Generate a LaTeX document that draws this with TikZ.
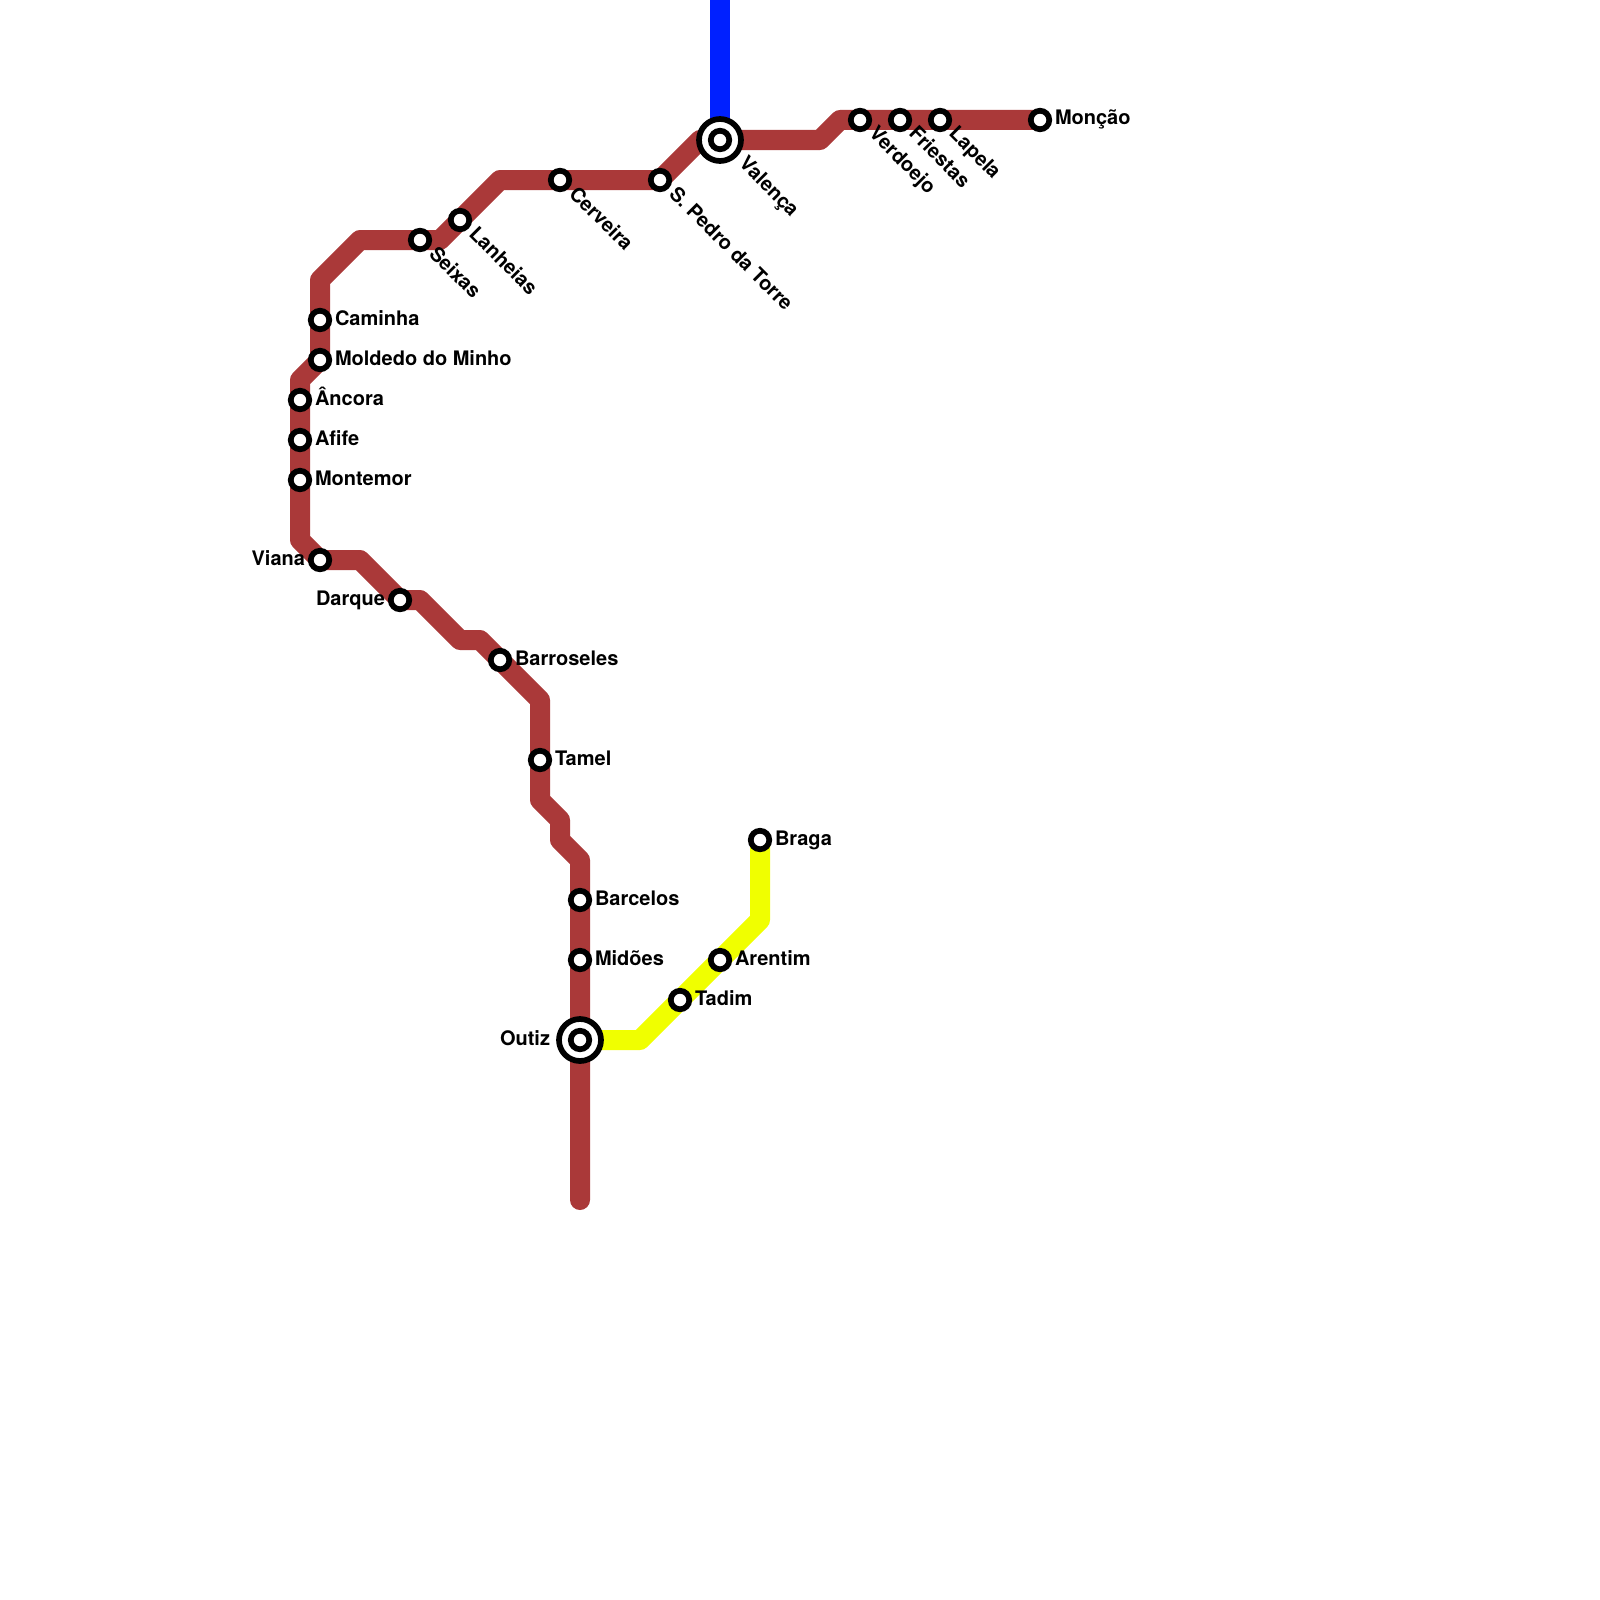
\documentclass[tikz,border=0pt]{standalone}
\usepackage{fontspec}
\setmainfont{TeX Gyre Heros}
\definecolor{brownline}{HTML}{AA3939}
\definecolor{yellowline}{HTML}{F0FF00}
\definecolor{blueline}{HTML}{0020FF}
\tikzset{
  route/.style={line width=10pt,line join=round,line cap=round},
  stn/.style={circle,draw=black,fill=white,line width=2.85pt,minimum size=9.25pt,inner sep=0pt,outer sep=0pt},
  hub/.style={circle,draw=black,fill=white,line width=2.85pt,minimum size=21pt,inner sep=0pt,outer sep=0pt},
  lbl/.style={inner sep=0pt,outer sep=0pt,font=\fontsize{10pt}{12pt}\selectfont\bfseries,text=black},
  lblR/.style={lbl,anchor=base west},
  lblL/.style={lbl,anchor=base east},
  lblD/.style={lbl,anchor=base west,rotate=-45},
}
\begin{document}
\begin{tikzpicture}[x=0.5pt,y=-0.5pt]
\useasboundingbox (0,0) rectangle (1600,1600);
% bend points and free ends
\coordinate (top) at (720,-12);
\coordinate (bEnd) at (580,1200);
\coordinate (b1) at (580,860);
\coordinate (b2) at (560,840);
\coordinate (b3) at (560,820);
\coordinate (b4) at (540,800);
\coordinate (b5) at (540,700);
\coordinate (b6) at (480,640);
\coordinate (b7) at (460,640);
\coordinate (b8) at (420,600);
\coordinate (b9) at (360,560);
\coordinate (b10) at (300,540);
\coordinate (b11) at (300,380);
\coordinate (b12) at (320,280);
\coordinate (b13) at (360,240);
\coordinate (b14) at (440,240);
\coordinate (b15) at (500,180);
\coordinate (b16) at (700,140);
\coordinate (b17) at (820,140);
\coordinate (b18) at (840,120);
\coordinate (y1) at (640,1040);
\coordinate (y2) at (760,920);
% stations
\coordinate (pCaminha) at (320,320);
\coordinate (pMoldedo) at (320,360);
\coordinate (pAncora) at (300,400);
\coordinate (pAfife) at (300,440);
\coordinate (pMontemor) at (300,480);
\coordinate (pViana) at (320,560);
\coordinate (pDarque) at (400,600);
\coordinate (pBarroseles) at (500,660);
\coordinate (pTamel) at (540,760);
\coordinate (pBarcelos) at (580,900);
\coordinate (pMidoes) at (580,960);
\coordinate (pOutiz) at (580,1040);
\coordinate (pTadim) at (680,1000);
\coordinate (pArentim) at (720,960);
\coordinate (pBraga) at (760,840);
\coordinate (pSeixas) at (420,240);
\coordinate (pLanheias) at (460,220);
\coordinate (pCerveira) at (560,180);
\coordinate (pPedro) at (660,180);
\coordinate (pValenca) at (720,140);
\coordinate (pVerdoejo) at (860,120);
\coordinate (pFriestas) at (900,120);
\coordinate (pLapela) at (940,120);
\coordinate (pMoncao) at (1040,120);
% lines
\draw[route,blueline] (top) -- (pValenca);
\draw[route,yellowline] (pOutiz) -- (y1) -- (y2) -- (pBraga);
\draw[route,brownline] (bEnd) -- (b1) -- (b2) -- (b3) -- (b4) -- (b5) -- (b6) -- (b7) -- (b8) -- (pDarque) -- (b9) -- (pViana) -- (b10) -- (b11) -- (pMoldedo) -- (b12) -- (b13) -- (b14) -- (b15) -- (pPedro) -- (b16) -- (b17) -- (b18) -- (pMoncao);
% station markers
\node[stn] (Caminha) at (pCaminha) {};
\node[stn] (Moldedo) at (pMoldedo) {};
\node[stn] (Ancora) at (pAncora) {};
\node[stn] (Afife) at (pAfife) {};
\node[stn] (Montemor) at (pMontemor) {};
\node[stn] (Viana) at (pViana) {};
\node[stn] (Darque) at (pDarque) {};
\node[stn] (Barroseles) at (pBarroseles) {};
\node[stn] (Tamel) at (pTamel) {};
\node[stn] (Barcelos) at (pBarcelos) {};
\node[stn] (Midoes) at (pMidoes) {};
\node[hub] (OutizHub) at (pOutiz) {};
\node[stn] (Outiz) at (pOutiz) {};
\node[stn] (Tadim) at (pTadim) {};
\node[stn] (Arentim) at (pArentim) {};
\node[stn] (Braga) at (pBraga) {};
\node[stn] (Seixas) at (pSeixas) {};
\node[stn] (Lanheias) at (pLanheias) {};
\node[stn] (Cerveira) at (pCerveira) {};
\node[stn] (Pedro) at (pPedro) {};
\node[hub] (ValencaHub) at (pValenca) {};
\node[stn] (Valenca) at (pValenca) {};
\node[stn] (Verdoejo) at (pVerdoejo) {};
\node[stn] (Friestas) at (pFriestas) {};
\node[stn] (Lapela) at (pLapela) {};
\node[stn] (Moncao) at (pMoncao) {};
% labels
\node[lblR] (tCaminha) at ([shift={(15,5)}]pCaminha) {Caminha};
\node[lblR] (tMoldedo) at ([shift={(15,5)}]pMoldedo) {Moldedo do Minho};
\node[lblR] (tAncora) at ([shift={(15,5)}]pAncora) {Âncora};
\node[lblR] (tAfife) at ([shift={(15,5)}]pAfife) {Afife};
\node[lblR] (tMontemor) at ([shift={(15,5)}]pMontemor) {Montemor};
\node[lblL] (tViana) at ([shift={(-15,5)}]pViana) {Viana};
\node[lblL] (tDarque) at ([shift={(-15,5)}]pDarque) {Darque};
\node[lblR] (tBarroseles) at ([shift={(15,5)}]pBarroseles) {Barroseles};
\node[lblR] (tTamel) at ([shift={(15,5)}]pTamel) {Tamel};
\node[lblR] (tBarcelos) at ([shift={(15,5)}]pBarcelos) {Barcelos};
\node[lblR] (tMidoes) at ([shift={(15,5)}]pMidoes) {Midões};
\node[lblL] (tOutiz) at ([shift={(-30,5)}]pOutiz) {Outiz};
\node[lblR] (tTadim) at ([shift={(15,5)}]pTadim) {Tadim};
\node[lblR] (tArentim) at ([shift={(15,5)}]pArentim) {Arentim};
\node[lblR] (tBraga) at ([shift={(15,5)}]pBraga) {Braga};
\node[lblR] (tMoncao) at ([shift={(15,5)}]pMoncao) {Monção};
\node[lblD] (tSeixas) at ([shift={(8,15)}]pSeixas) {Seixas};
\node[lblD] (tLanheias) at ([shift={(8,15)}]pLanheias) {Lanheias};
\node[lblD] (tCerveira) at ([shift={(8,15)}]pCerveira) {Cerveira};
\node[lblD] (tPedro) at ([shift={(8,15)}]pPedro) {S. Pedro da Torre};
\node[lblD] (tValenca) at ([shift={(18,25)}]pValenca) {Valença};
\node[lblD] (tVerdoejo) at ([shift={(8,15)}]pVerdoejo) {Verdoejo};
\node[lblD] (tFriestas) at ([shift={(8,15)}]pFriestas) {Friestas};
\node[lblD] (tLapela) at ([shift={(8,15)}]pLapela) {Lapela};
\end{tikzpicture}
\end{document}
